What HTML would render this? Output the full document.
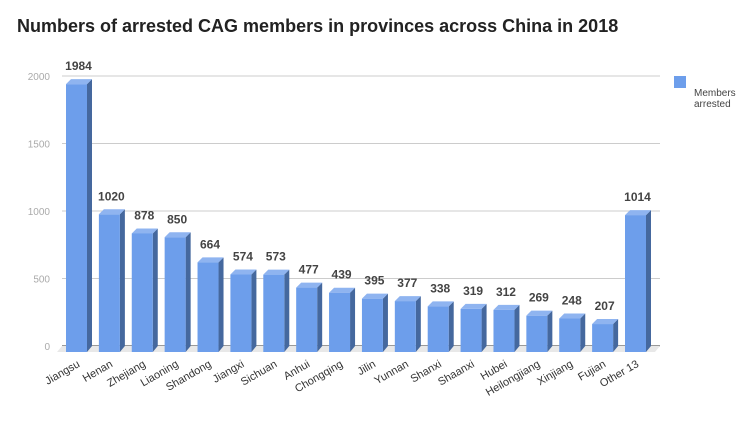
<!DOCTYPE html>
<html><head><meta charset="utf-8"><style>
body{margin:0;background:#fff;font-family:"Liberation Sans",sans-serif}
svg text{font-family:"Liberation Sans",sans-serif}
</style></head><body>
<svg width="749" height="417" viewBox="0 0 749 417">
<text x="17" y="32" font-size="18" font-weight="bold" fill="#222">Numbers of arrested CAG members in provinces across China in 2018</text>
<g id="grid"></g>
<polygon points="57,352 655,352 660,346 62,346" fill="#e8e8e8"/>
<g id="bars"></g>
<rect x="674" y="76" width="12" height="12" fill="#6d9eeb"/>
<text x="694" y="96" font-size="10" fill="#444"><tspan x="694">Members</tspan><tspan x="694" dy="11">arrested</tspan></text>
</svg>
<script>
const categories=["Jiangsu","Henan","Zhejiang","Liaoning","Shandong","Jiangxi","Sichuan","Anhui","Chongqing","Jilin","Yunnan","Shanxi","Shaanxi","Hubei","Heilongjiang","Xinjiang","Fujian","Other 13"];
const values=[1984,1020,878,850,664,574,573,477,439,395,377,338,319,312,269,248,207,1014];
const ticks=[0,500,1000,1500,2000];
const NS="http://www.w3.org/2000/svg";
const baseBack=346, baseFront=352, k=(346-76)/2000;
const n=categories.length, x0=66, step=(625-66)/(n-1), bw=21, d=5;
function yBack(v){return baseBack-v*k;}
function yFront(v){return baseFront-v*k;}
function xPos(i){return x0+i*step;}
function mk(t,a,p){const e=document.createElementNS(NS,t);for(const q in a)e.setAttribute(q,a[q]);p.appendChild(e);return e;}
const grid=document.getElementById('grid'), bars=document.getElementById('bars');
ticks.forEach(t=>{
  const l=mk('line',{x1:62,x2:660,y1:yBack(t),y2:yBack(t),stroke:t===0?'#333':'#ccc','stroke-width':1},grid);
  
  
  const tx=mk('text',{x:50,y:yBack(t)+4,'font-size':10,fill:'#aaa','text-anchor':'end'},grid);
  tx.textContent=t;
  
  
});
values.forEach((v,i)=>{
  const x=xPos(i), yt=yFront(v);
  const g=mk('g',{},bars);
  
  
  mk('polygon',{points:`${x+bw},${baseFront} ${x+bw+d},${baseFront-d-1} ${x+bw+d},${yt-d} ${x+bw},${yt}`,fill:'#45689e'},g);
  mk('polygon',{points:`${x},${yt} ${x+d},${yt-d} ${x+bw+d},${yt-d} ${x+bw},${yt}`,fill:'#8fb4f0'},g);
  mk('rect',{x:x,y:yt,width:bw,height:baseFront-yt,fill:'#6d9eeb'},g);
  const vl=mk('text',{x:x+bw/2+2,y:yt-14,'font-size':12,'font-weight':'bold',fill:'#444','text-anchor':'middle'},g);
  vl.textContent=v;
  
  
  const cl=mk('text',{x:x+bw/2+4,y:366,'font-size':11,fill:'#333','text-anchor':'end',transform:`rotate(-30 ${x+bw/2+4} 366)`},g);
  cl.textContent=categories[i];
  
  
});
</script>
</body></html>
